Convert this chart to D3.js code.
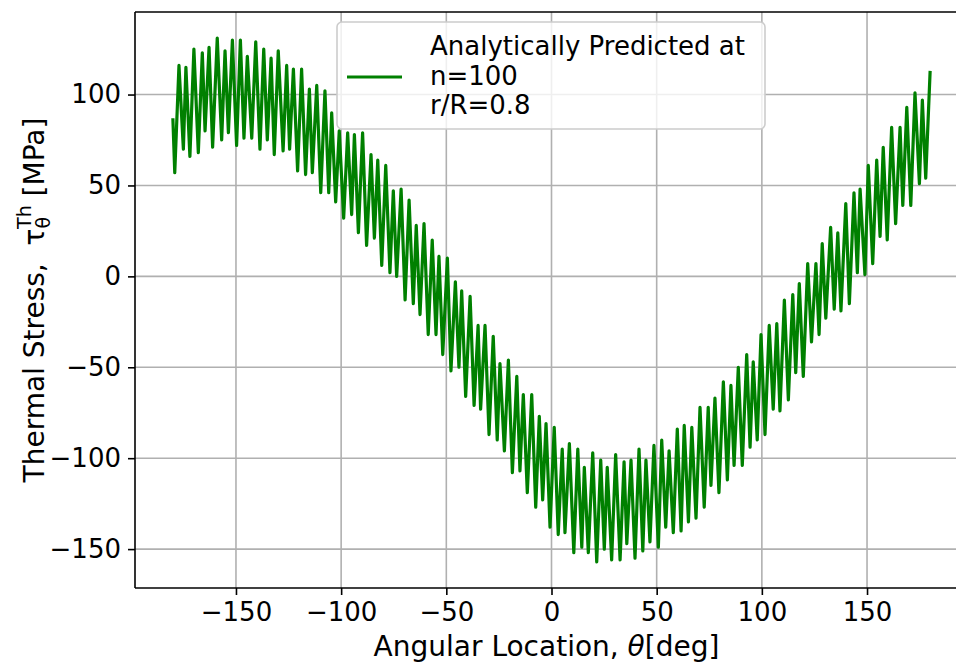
<!DOCTYPE html>
<html>
<head>
<meta charset="utf-8">
<script src="https://cdn.jsdelivr.net/npm/d3@7"></script>
<style>
    body { margin: 0; background: #fff; }
    svg { font-family: "DejaVu Sans", sans-serif; display: block; }
    .axis text { font-size: 26px; fill: #000; }
    .axis line { stroke: #000; stroke-width: 1.6; }
    .axis path { display: none; }
    .grid line { stroke: #b0b0b0; stroke-width: 1.6; }
    .spine { stroke: #000; stroke-width: 1.6; }
    .title { font-size: 28px; fill: #000; white-space: pre; }
    .line { fill: none; stroke: #008000; stroke-width: 3.2; stroke-linejoin: round; }
    .legend text { font-size: 26px; fill: #000; }
</style>
</head>
<body>
<svg id="chart" width="956" height="665">
    <g class="chart">
        <g class="x grid"></g>
        <g class="y grid"></g>
        <path class="line"></path>
        <g class="x axis"></g>
        <g class="y axis"></g>
        <g class="spines"></g>
        <g class="legend"></g>
    </g>
    <text class="x title"></text>
    <text class="y title"></text>
</svg>
<script>
// peaks / troughs of the curve
const angles = [
    -180.0, -179.1, -177.1, -175.0, -173.8, -171.9, -170.0, -167.9, -166.0, -164.7,
    -162.8, -161.1, -158.9, -156.8, -155.2, -153.6, -151.7, -149.7, -147.9, -146.2,
    -144.6, -142.5, -140.6, -138.6, -136.8, -135.1, -133.3, -131.8, -129.9, -127.6,
    -125.9, -124.5, -122.7, -120.7, -118.8, -116.9, -115.1, -113.7, -111.6, -109.7,
    -107.7, -105.9, -104.5, -102.6, -100.9, -98.8, -96.9, -95.0, -93.7, -91.8,
    -89.8, -87.9, -85.8, -84.2, -82.6, -80.7, -78.8, -76.8, -75.2, -73.6,
    -71.5, -69.6, -67.7, -65.7, -64.3, -62.5, -60.6, -58.6, -56.7, -54.9,
    -53.5, -51.7, -49.5, -47.8, -45.7, -44.0, -42.7, -40.8, -38.7, -36.8,
    -34.9, -33.7, -31.6, -29.7, -27.7, -25.8, -24.5, -22.4, -20.5, -18.6,
    -16.5, -15.0, -13.4, -11.5, -9.4, -7.5, -5.8, -4.2, -2.6, -0.7,
    1.3, 3.2, 5.1, 6.4, 8.5, 10.6, 12.5, 14.4, 15.6, 17.5,
    19.6, 21.5, 23.4, 25.1, 26.5, 28.6, 30.5, 32.6, 34.5, 35.8,
    37.8, 39.7, 41.6, 43.4, 44.9, 46.8, 48.7, 50.8, 52.4, 54.3,
    55.9, 57.9, 59.8, 61.6, 63.1, 65.1, 66.7, 68.7, 70.6, 72.6,
    74.5, 75.8, 77.7, 79.6, 81.7, 83.6, 85.3, 86.8, 88.8, 90.7,
    92.8, 94.4, 95.9, 97.8, 99.6, 101.5, 103.5, 105.4, 107.1, 108.6,
    110.7, 112.6, 114.7, 116.1, 117.8, 119.7, 121.8, 123.6, 125.7, 127.2,
    128.7, 130.4, 132.7, 134.4, 136.1, 137.6, 139.9, 141.6, 143.8, 145.4,
    146.7, 149.0, 150.6, 152.7, 154.6, 156.2, 157.7, 159.6, 161.7, 163.6,
    165.7, 167.0, 168.9, 170.8, 172.8, 174.9, 176.3, 177.9, 180.0
];
const stress = [
    87, 57, 116, 70, 115, 66, 125, 68, 123, 80,
    126, 71, 131, 75, 124, 79, 130, 72, 130, 76,
    121, 76, 129, 70, 125, 75, 120, 67, 124, 69,
    116, 70, 114, 58, 114, 56, 103, 57, 105, 46,
    102, 46, 90, 41, 80, 32, 79, 34, 78, 24,
    79, 17, 67, 21, 64, 6, 61, 2, 47, 0,
    48, -13, 42, -15, 28, -21, 29, -32, 20, -32,
    11, -43, 10, -52, -3, -50, -8, -66, -11, -71,
    -27, -73, -27, -87, -33, -90, -48, -96, -46, -108,
    -55, -107, -65, -119, -65, -127, -77, -123, -81, -138,
    -83, -142, -95, -141, -92, -152, -95, -149, -105, -152,
    -97, -157, -101, -150, -105, -156, -98, -156, -102, -147,
    -101, -155, -95, -151, -101, -146, -93, -149, -90, -138,
    -96, -141, -84, -140, -82, -135, -83, -133, -72, -127,
    -72, -115, -67, -119, -58, -112, -60, -104, -50, -104,
    -43, -94, -47, -90, -32, -87, -27, -73, -26, -74,
    -13, -68, -10, -53, -4, -55, 7, -36, 7, -32,
    18, -23, 27, -18, 24, -19, 40, -15, 46, 2,
    48, 1, 61, 7, 64, 22, 71, 20, 82, 29,
    82, 39, 93, 39, 101, 51, 97, 54, 113
];
const xTicks = [-150, -100, -50, 0, 50, 100, 150];
const yTicks = [-150, -100, -50, 0, 50, 100];
const legendLines = ["Analytically Predicted at", "n=100", "r/R=0.8"];

const margin = {top: 12, left: 135, bottom: 77};
const width = 833;
const height = 665 - margin.top - margin.bottom;

/*global d3*/
const vals = angles.map((a, i) => ({x: a, y: stress[i]}));

// matplotlib-style 5% margins around the data
function padded(ext) {
    let pad = (ext[1] - ext[0]) * 0.05;
    return [ext[0] - pad, ext[1] + pad];
}
const xScale = d3.scaleLinear().range([0, width]).domain(padded(d3.extent(angles)));
const yScale = d3.scaleLinear().range([height, 0]).domain(padded(d3.extent(stress)));

const svg = d3.select("#chart");
const chart = svg.select(".chart")
    .attr("transform", "translate(" + margin.left + "," + margin.top + ")");

chart.select(".x.grid").selectAll("line").data(xTicks).enter().append("line")
    .attr("x1", d => xScale(d)).attr("x2", d => xScale(d))
    .attr("y1", 0).attr("y2", height);
chart.select(".y.grid").selectAll("line").data(yTicks).enter().append("line")
    .attr("x1", 0).attr("x2", width)
    .attr("y1", d => yScale(d)).attr("y2", d => yScale(d));

const d3Line = d3.line()
    .x(function(d) { return xScale(d.x); })
    .y(function(d) { return yScale(d.y); });
chart.select(".line").datum(vals).attr("d", d3Line);

chart.select(".x.axis")
    .attr("transform", "translate(0," + height + ")")
    .call(d3.axisBottom(xScale).tickValues(xTicks).tickSize(7).tickPadding(8).tickSizeOuter(0));
chart.select(".y.axis")
    .call(d3.axisLeft(yScale).tickValues(yTicks).tickSize(7).tickPadding(7).tickSizeOuter(0));
chart.selectAll(".axis").attr("font-family", null).attr("font-size", null);

const spines = chart.select(".spines");
spines.append("line").attr("class", "spine").attr("x1", 0).attr("x2", 0).attr("y1", 0).attr("y2", height);
spines.append("line").attr("class", "spine").attr("x1", 0).attr("x2", width).attr("y1", 0).attr("y2", 0);
spines.append("line").attr("class", "spine").attr("x1", 0).attr("x2", width).attr("y1", height).attr("y2", height);
spines.append("line").attr("class", "spine").attr("x1", width).attr("x2", width).attr("y1", 0).attr("y2", height);

// legend box, upper centre
const legend = chart.select(".legend").attr("transform", "translate(202,10)");
legend.append("rect")
    .attr("width", 428).attr("height", 107).attr("rx", 5)
    .attr("fill", "#fff").attr("fill-opacity", 0.8)
    .attr("stroke", "#cccccc").attr("stroke-width", 1.6);
legend.append("line")
    .attr("x1", 10).attr("x2", 65).attr("y1", 55).attr("y2", 55)
    .attr("stroke", "#008000").attr("stroke-width", 3.2);
legend.selectAll("text").data(legendLines).enter().append("text")
    .attr("x", 93)
    .attr("y", (d, i) => 33 + i * 29.5)
    .text(d => d);

const xTitle = svg.select(".x.title")
    .attr("x", margin.left + xScale(0) - 5).attr("y", 656)
    .attr("text-anchor", "middle");
xTitle.append("tspan").text("Angular Location, ");
xTitle.append("tspan").attr("font-style", "italic").text("θ");
xTitle.append("tspan").text("[deg]");

const yTitle = svg.select(".y.title")
    .attr("transform", "translate(44," + (margin.top + height / 2) + ") rotate(-90)")
    .attr("text-anchor", "middle");
yTitle.append("tspan").text("Thermal Stress,  τ");
yTitle.append("tspan").attr("font-size", 19).attr("dy", 6).text("θ");
yTitle.append("tspan").attr("font-size", 19).attr("dx", -12).attr("dy", -19).text("Th");
yTitle.append("tspan").attr("dy", 13).text(" [MPa]");
</script>
</body>
</html>
